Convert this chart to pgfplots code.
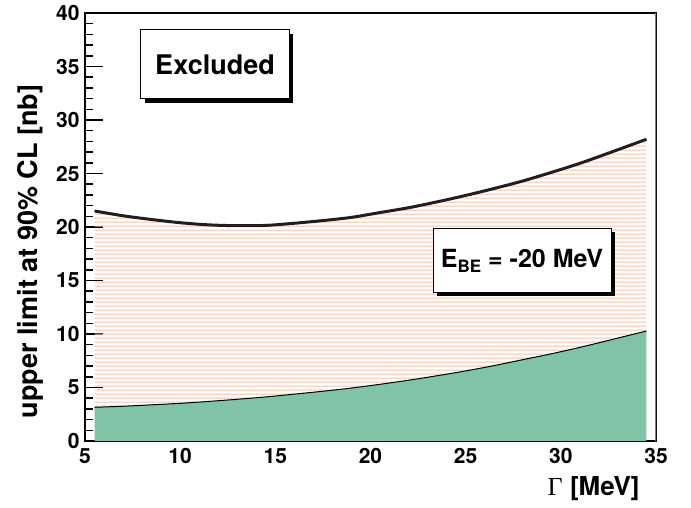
\documentclass[border=0pt]{standalone}
\usepackage{fontspec}
\setmainfont{TeX Gyre Heros}
\newfontfamily\greekserif{Liberation Serif}
\usepackage{pgfplots}
\pgfplotsset{compat=1.18}
\usetikzlibrary{patterns.meta}

\definecolor{bandgreen}{RGB}{128,195,166}
\definecolor{hatchred}{RGB}{250,190,165}
\definecolor{framegray}{RGB}{125,125,125}

% horizontal salmon hatching
\tikzdeclarepattern{
  name=salmonlines,
  type=colored,
  bottom left={(0pt,0pt)},
  top right={(4pt,1.9pt)},
  tile size={(4pt,1.9pt)},
  code={\fill[hatchred] (0pt,0.7pt) rectangle (4pt,1.2pt);}
}

% upper limit (thick line) and lower bound of the band
\pgfplotstableread{
x y
5.5 21.5
7 21.05
8.5 20.7
10 20.4
11.5 20.2
13 20.12
14.5 20.15
16 20.35
17.5 20.6
19 20.9
20.5 21.35
22 21.8
23.5 22.35
25 22.95
26.5 23.6
28 24.3
29.5 25.1
31 25.95
32.5 26.9
34.5 28.2
}\upperlimit

\pgfplotstableread{
x y
5.5 3.15
7 3.25
8.5 3.38
10 3.52
11.5 3.7
13 3.9
14.5 4.12
16 4.38
17.5 4.65
19 4.95
20.5 5.3
22 5.68
23.5 6.1
25 6.55
26.5 7.05
28 7.6
29.5 8.15
31 8.75
32.5 9.4
34.5 10.28
}\lowerlimit

\begin{document}
\begin{tikzpicture}
\path[use as bounding box] (-42.5pt,-33.5pt) rectangle (303pt,220.5pt);
\begin{axis}[
  at={(0pt,0pt)}, anchor=south west,
  scale only axis, width=285.5pt, height=214pt,
  xmin=5, xmax=35, ymin=0, ymax=40,
  xtick pos=bottom, ytick pos=left,
  axis line style={line width=0.8pt, black},
  tick align=inside,
  xtick={5,10,...,35}, ytick={0,5,...,40},
  minor x tick num=4, minor y tick num=4,
  major tick length=9pt, minor tick length=4pt,
  tick style={black, line width=0.75pt},
  /pgf/number format/assume math mode=true,
  ticklabel style={font=\fontsize{10.5}{12}\selectfont\bfseries, inner sep=0pt},
  xticklabel style={yshift=-3.5pt},
  yticklabel style={xshift=-2.5pt},
]
  % excluded region: hatched up to the upper limit
  \addplot[draw=none, pattern=salmonlines, smooth] table {\upperlimit} \closedcycle;
  % band below the lower bound
  \addplot[draw=none, fill=bandgreen, smooth] table {\lowerlimit} \closedcycle;
  \addplot[black, line width=0.5pt, smooth] table {\lowerlimit};
  \addplot[black!88, line width=1.5pt, smooth] table {\upperlimit};
  % right frame edge
  \draw[framegray, line width=1.5pt] (rel axis cs:1,0) -- (rel axis cs:1,1);
\end{axis}

% text boxes with drop shadows
\fill[black] (30pt,169pt) rectangle (104pt,203.5pt);
\draw[fill=white, line width=0.5pt] (28pt,171pt) rectangle (102pt,205.5pt);
\node[font=\fontsize{13.5}{15}\selectfont\bfseries] at (65pt,188.25pt) {Excluded};

\fill[black] (175.75pt,72.25pt) rectangle (264.75pt,104.25pt);
\draw[fill=white, line width=0.5pt] (174pt,74pt) rectangle (263pt,106pt);
\node[font=\fontsize{12.5}{14}\selectfont\bfseries] at (218.5pt,90pt)
  {E\raisebox{-2.8pt}{\fontsize{8.5}{10}\selectfont BE} = -20 MeV};

% axis titles
\node[rotate=90, font=\fontsize{13.5}{15}\selectfont\bfseries] at (-27.5pt,94.75pt)
  {upper limit at 90\% CL [nb]};
\node[anchor=base east, inner sep=0pt, font=\fontsize{13}{15}\selectfont\bfseries] at (277.5pt,-27.5pt)
  {{\greekserif\mdseries Γ} [MeV]};
\end{tikzpicture}
\end{document}
